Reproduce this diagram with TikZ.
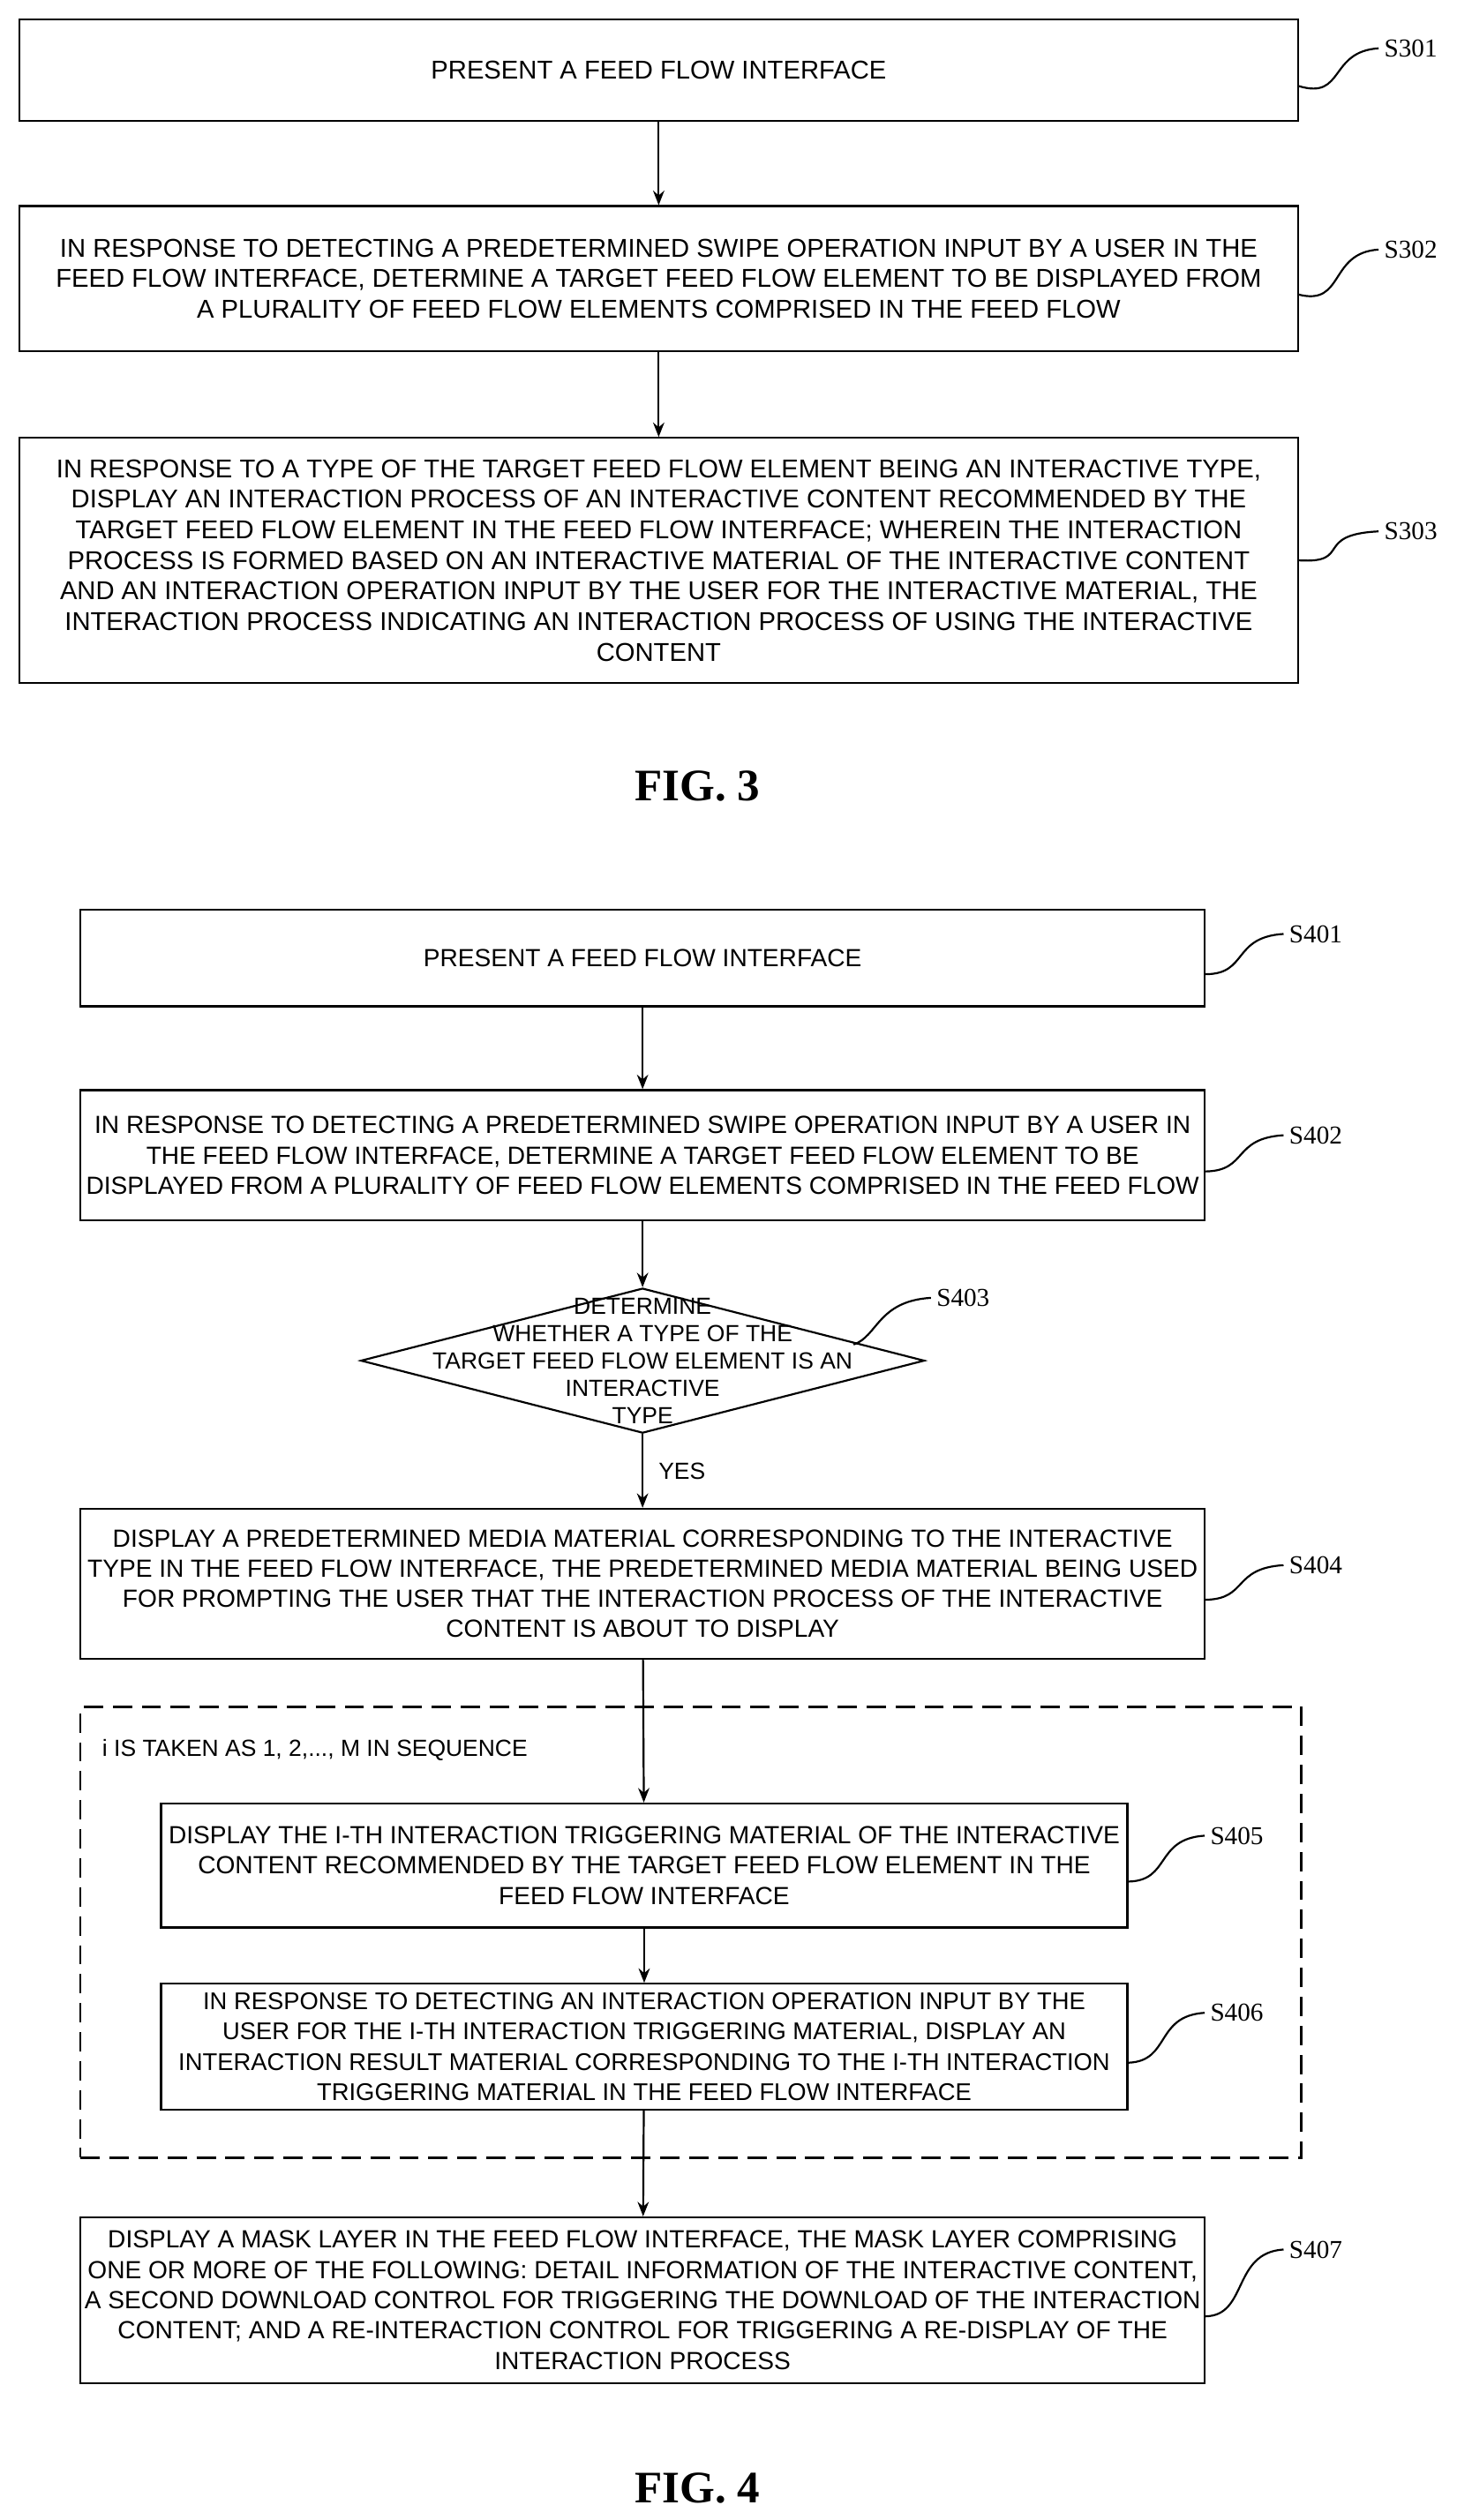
\documentclass[tikz,border=0pt]{standalone}
\usepackage{fontspec}
\setmainfont{Liberation Sans}
\newfontfamily\serifl{Liberation Serif}
\usetikzlibrary{shapes.geometric,arrows.meta}
\begin{document}
\begin{tikzpicture}[x=1pt,y=-1pt,
 box/.style={draw,line width=1.2pt,align=center,font=\fontsize{15.4}{18.8}\selectfont,inner sep=0pt},
 box3/.style={box,font=\fontsize{16}{19}\selectfont},
 lbl/.style={font=\serifl\fontsize{16}{18}\selectfont,anchor=west},
 arr/.style={-{Stealth[length=9pt,width=7pt]},line width=1.2pt},
 crv/.style={line width=1.2pt},
 fig/.style={font=\serifl\bfseries\fontsize{28}{30}\selectfont}]
\useasboundingbox (0,0) rectangle (914,1565);
% FIG 3
\node[box3,minimum width=794,minimum height=63] (b1) at (409,43.5) {PRESENT A FEED FLOW INTERFACE};
\node[box3,minimum width=794,minimum height=90] (b2) at (409,173) {IN RESPONSE TO DETECTING A PREDETERMINED SWIPE OPERATION INPUT BY A USER IN THE\\FEED FLOW INTERFACE, DETERMINE A TARGET FEED FLOW ELEMENT TO BE DISPLAYED FROM\\A PLURALITY OF FEED FLOW ELEMENTS COMPRISED IN THE FEED FLOW};
\node[box3,minimum width=794,minimum height=152] (b3) at (409,348) {IN RESPONSE TO A TYPE OF THE TARGET FEED FLOW ELEMENT BEING AN INTERACTIVE TYPE,\\DISPLAY AN INTERACTION PROCESS OF AN INTERACTIVE CONTENT RECOMMENDED BY THE\\TARGET FEED FLOW ELEMENT IN THE FEED FLOW INTERFACE; WHEREIN THE INTERACTION\\PROCESS IS FORMED BASED ON AN INTERACTIVE MATERIAL OF THE INTERACTIVE CONTENT\\AND AN INTERACTION OPERATION INPUT BY THE USER FOR THE INTERACTIVE MATERIAL, THE\\INTERACTION PROCESS INDICATING AN INTERACTION PROCESS OF USING THE INTERACTIVE\\CONTENT};
\draw[arr] (b1) -- (b2);
\draw[arr] (b2) -- (b3);
\node[lbl] (l1) at (856,30) {S301};
\node[lbl] (l2) at (856,155) {S302};
\node[lbl] (l3) at (856,330) {S303};
\draw[crv] (b1.east) ++(0,10) .. controls (835,62) and (825,32) .. (l1.west);
\draw[crv] (b2.east) ++(0,10) .. controls (835,190) and (825,157) .. (l2.west);
\draw[crv] (b3.east) ++(0,0) .. controls (840,350) and (815,332) .. (l3.west);
\node[fig] (f3) at (433,488) {FIG. 3};
% FIG 4
\node[box,minimum width=698,minimum height=60] (c1) at (399,595) {PRESENT A FEED FLOW INTERFACE};
\node[box,minimum width=698,minimum height=81] (c2) at (399,717.5) {IN RESPONSE TO DETECTING A PREDETERMINED SWIPE OPERATION INPUT BY A USER IN\\THE FEED FLOW INTERFACE, DETERMINE A TARGET FEED FLOW ELEMENT TO BE\\DISPLAYED FROM A PLURALITY OF FEED FLOW ELEMENTS COMPRISED IN THE FEED FLOW};
\node[draw,line width=1.2pt,diamond,minimum width=350,minimum height=90,inner sep=0pt] (d) at (399,845) {};
\node[align=center,font=\fontsize{14.5}{17}\selectfont] (dt) at (399,845) {DETERMINE\\WHETHER A TYPE OF THE\\TARGET FEED FLOW ELEMENT IS AN\\INTERACTIVE\\TYPE};
\node[box,minimum width=698,minimum height=93] (c4) at (399,983.5) {DISPLAY A PREDETERMINED MEDIA MATERIAL CORRESPONDING TO THE INTERACTIVE\\TYPE IN THE FEED FLOW INTERFACE, THE PREDETERMINED MEDIA MATERIAL BEING USED\\FOR PROMPTING THE USER THAT THE INTERACTION PROCESS OF THE INTERACTIVE\\CONTENT IS ABOUT TO DISPLAY};
\node[draw,line width=1.2pt,dashed,dash pattern=on 12pt off 6pt,minimum width=758,minimum height=280,inner sep=0pt] (dash) at (429,1200) {};
\node[anchor=west,font=\fontsize{14.5}{16}\selectfont] (it) at (60,1087) {i IS TAKEN AS 1, 2,..., M IN SEQUENCE};
\node[box,minimum width=600,minimum height=77] (c5) at (400,1158.5) {DISPLAY THE I-TH INTERACTION TRIGGERING MATERIAL OF THE INTERACTIVE\\CONTENT RECOMMENDED BY THE TARGET FEED FLOW ELEMENT IN THE\\FEED FLOW INTERFACE};
\node[box,font=\fontsize{15}{18.8}\selectfont,minimum width=600,minimum height=78] (c6) at (400,1271) {IN RESPONSE TO DETECTING AN INTERACTION OPERATION INPUT BY THE\\USER FOR THE I-TH INTERACTION TRIGGERING MATERIAL, DISPLAY AN\\INTERACTION RESULT MATERIAL CORRESPONDING TO THE I-TH INTERACTION\\TRIGGERING MATERIAL IN THE FEED FLOW INTERFACE};
\node[box,minimum width=698,minimum height=103] (c7) at (399,1428.5) {DISPLAY A MASK LAYER IN THE FEED FLOW INTERFACE, THE MASK LAYER COMPRISING\\ONE OR MORE OF THE FOLLOWING: DETAIL INFORMATION OF THE INTERACTIVE CONTENT,\\A SECOND DOWNLOAD CONTROL FOR TRIGGERING THE DOWNLOAD OF THE INTERACTION\\CONTENT; AND A RE-INTERACTION CONTROL FOR TRIGGERING A RE-DISPLAY OF THE\\INTERACTION PROCESS};
\draw[arr] (c1) -- (c2);
\draw[arr] (c2) -- (d.north);
\draw[arr] (d.south) -- node[right=6pt,font=\fontsize{14.5}{16}\selectfont]{YES} (c4);
\draw[arr] (c4) -- (c5);
\draw[arr] (c5) -- (c6);
\draw[arr] (c6) -- (c7);
\node[lbl] (m1) at (797,580) {S401};
\node[lbl] (m2) at (797,705) {S402};
\node[lbl] (m3) at (578,806) {S403};
\node[lbl] (m4) at (797,972) {S404};
\node[lbl] (m5) at (748,1140) {S405};
\node[lbl] (m6) at (748,1250) {S406};
\node[lbl] (m7) at (797,1397) {S407};
\draw[crv] (c1.east) ++(0,10) .. controls (775,605) and (765,582) .. (m1.west);
\draw[crv] (c2.east) ++(0,10) .. controls (775,727) and (765,707) .. (m2.west);
\draw[crv] (530,835) .. controls (545,830) and (545,808) .. (m3.west);
\draw[crv] (c4.east) ++(0,10) .. controls (775,993) and (765,974) .. (m4.west);
\draw[crv] (c5.east) ++(0,10) .. controls (727,1168) and (717,1142) .. (m5.west);
\draw[crv] (c6.east) ++(0,10) .. controls (727,1280) and (717,1252) .. (m6.west);
\draw[crv] (c7.east) ++(0,10) .. controls (775,1438) and (765,1399) .. (m7.west);
\node[fig] (f4) at (433,1545) {FIG. 4};
\end{tikzpicture}
\end{document}
